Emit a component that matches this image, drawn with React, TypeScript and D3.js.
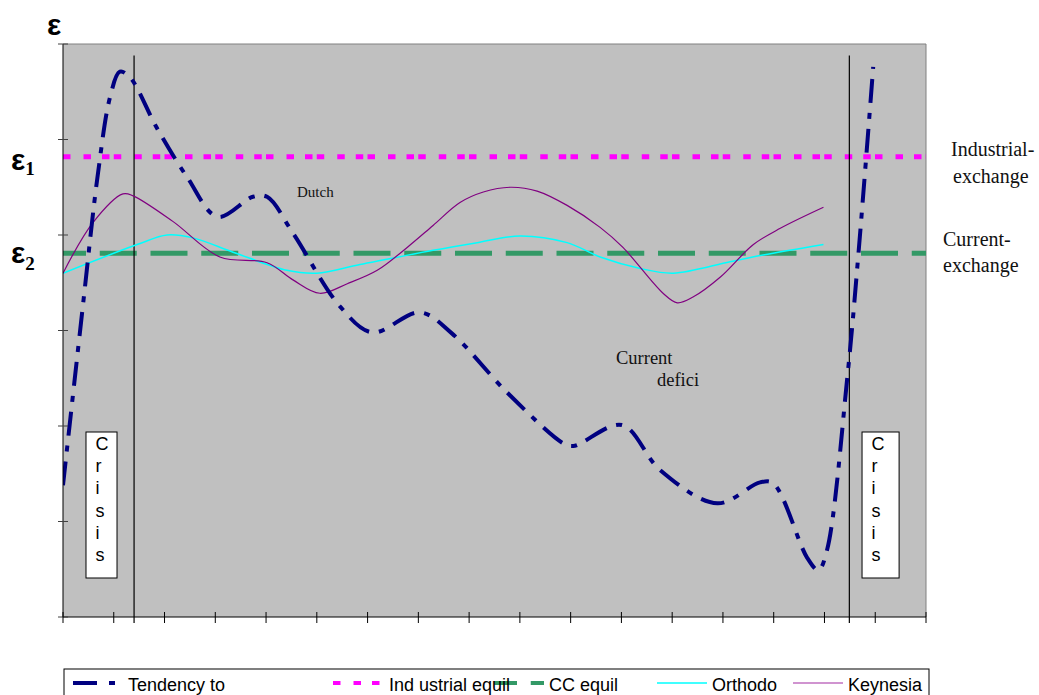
import React from 'react';
import * as d3 from 'd3';

const W = 1039;
const H = 695;

// x: period index (17 intervals), y: exchange-rate level (6 intervals)
const xTicks = d3.range(0, 18);
const yTicks = d3.range(0, 7);

// [period, level]
const tendency: [number, number][] = [
  [0, 1.38], [0.39, 3.25], [0.69, 4.65], [0.93, 5.45], [1.12, 5.71], [1.32, 5.65],
  [1.85, 5.12], [2.44, 4.61], [3.05, 4.19], [3.74, 4.4], [4.02, 4.4], [4.53, 4.02],
  [5.46, 3.25], [6.09, 2.98], [7.03, 3.19], [7.66, 2.97], [8.75, 2.35], [9.85, 1.82],
  [10.05, 1.79], [11.01, 2.01], [11.76, 1.54], [12.89, 1.19], [13.73, 1.41], [13.99, 1.4],
  [14.66, 0.62], [14.88, 0.49], [15.05, 0.7], [15.45, 2.51], [15.67, 3.81], [15.96, 5.76],
];

const orthodox: [number, number][] = [
  [0, 3.6], [1.46, 3.9], [2.05, 4.0], [2.56, 3.97], [3.35, 3.82], [4.41, 3.63],
  [5.0, 3.6], [5.85, 3.69], [7.29, 3.84], [8.16, 3.92], [9.0, 3.99], [9.93, 3.92],
  [10.58, 3.77], [11.37, 3.65], [12.02, 3.6], [13.14, 3.72], [13.79, 3.79], [14.98, 3.9],
];

const keynesian: [number, number][] = [
  [0, 3.6], [0.59, 4.13], [1.18, 4.43], [1.38, 4.41], [2.17, 4.14], [3.09, 3.77],
  [4.02, 3.71], [4.53, 3.53], [5.06, 3.39], [5.6, 3.49], [6.19, 3.63], [6.78, 3.87],
  [7.29, 4.1], [7.82, 4.34], [8.28, 4.45], [8.81, 4.5], [9.34, 4.46], [9.93, 4.31],
  [10.58, 4.08], [11.03, 3.87], [11.82, 3.39], [12.1, 3.29], [12.41, 3.35], [12.95, 3.56],
  [13.6, 3.9], [14.13, 4.07], [14.98, 4.29],
];

const industrialEquil = 4.82;
const ccEquil = 3.81;
const crisisLines = [1.4, 15.49];
// crisis text boxes: [x0, x1] in periods
const crisisBoxes: [number, number][] = [[0.453, 1.064], [15.74, 16.47]];
const crisisLetters = ['C', 'r', 'i', 's', 'i', 's'];

const legendLabels = ['Tendency to', 'Ind ustrial equil', 'CC equil', 'Orthodo', 'Keynesia'];

const NAVY = '#000080';
const MAGENTA = '#FF00FF';
const GREEN = '#339966';
const CYAN = '#00FFFF';
const PURPLE = '#800080';

const TEND_DASH = '24,10,6,10';
const IND_DASH = '7.5,13,7.5,11,7.5,4.25';
const CC_DASH = '37,13.75';

export default function App() {
  const left = 63, right = 926, top = 44, bottom = 617;
  const x = d3.scaleLinear().domain([0, 17]).range([left, right]);
  const y = d3.scaleLinear().domain([0, 6]).range([bottom, top]);

  const line = d3
    .line<[number, number]>()
    .x(d => x(d[0]))
    .y(d => y(d[1]))
    .curve(d3.curveCatmullRom.alpha(0.5));

  const serif = 'Liberation Serif, Times New Roman, serif';
  const sans = 'Liberation Sans, Arial, sans-serif';

  const legY = 683;
  const textY = 691;

  return (
    <svg
      width={W}
      height={H}
      style={{ position: 'absolute', left: 0, top: 0, background: '#fff' }}
    >
      <defs>
        <clipPath id="plot">
          <rect x={left} y={top} width={right - left} height={bottom - top} />
        </clipPath>
      </defs>

      {/* plot area */}
      <rect x={left} y={top} width={right - left} height={bottom - top} fill="#C0C0C0" />
      <line x1={left} x2={right} y1={top} y2={top} stroke="#808080" />
      <line x1={right} x2={right} y1={top} y2={bottom} stroke="#808080" />

      {/* equilibrium lines */}
      <g clipPath="url(#plot)">
        <line
          x1={left} x2={right} y1={y(industrialEquil)} y2={y(industrialEquil)}
          stroke={MAGENTA} strokeWidth={5} strokeDasharray={IND_DASH}
        />
        <line
          x1={left} x2={right} y1={y(ccEquil)} y2={y(ccEquil)}
          stroke={GREEN} strokeWidth={5} strokeDasharray={CC_DASH} strokeDashoffset={14}
        />
      </g>

      {/* crisis verticals */}
      {crisisLines.map((c, i) => (
        <line key={i} x1={x(c)} x2={x(c)} y1={y(5.88)} y2={bottom + 6} stroke="#000" strokeWidth={1.2} />
      ))}

      {/* crisis boxes */}
      {crisisBoxes.map(([a, b], i) => (
        <g key={i}>
          <rect x={x(a)} y={432} width={x(b) - x(a)} height={146} fill="#fff" stroke="#000" />
          {crisisLetters.map((ch, j) => (
            <text key={j} x={x(a) + 9.5} y={450 + j * 22.2} fontFamily={sans} fontSize={18} fill="#000">
              {ch}
            </text>
          ))}
        </g>
      ))}

      {/* series */}
      <g clipPath="url(#plot)" fill="none">
        <path d={line(orthodox) || ''} stroke={CYAN} strokeWidth={1.5} />
        <path d={line(keynesian) || ''} stroke={PURPLE} strokeWidth={1.2} />
        <path d={line(tendency) || ''} stroke={NAVY} strokeWidth={4} strokeDasharray={TEND_DASH} />
      </g>

      {/* axes */}
      <line x1={left} x2={left} y1={top} y2={bottom} stroke="#000" />
      <line x1={left} x2={right} y1={bottom} y2={bottom} stroke="#000" />
      {yTicks.map(t => (
        <line key={t} x1={left - 5} x2={left + 5} y1={y(t)} y2={y(t)} stroke="#404040" />
      ))}
      {xTicks.map(t => (
        <line key={t} x1={x(t)} x2={x(t)} y1={bottom - 5} y2={bottom + 6} stroke="#000" />
      ))}

      {/* epsilon labels */}
      <text x={47} y={35} fontFamily={sans} fontWeight="bold" fontSize={30}>ε</text>
      <text x={11} y={170} fontFamily={sans} fontWeight="bold" fontSize={30}>
        ε<tspan fontFamily={serif} fontSize={19} dy={5}>1</tspan>
      </text>
      <text x={11} y={263} fontFamily={sans} fontWeight="bold" fontSize={30}>
        ε<tspan fontFamily={serif} fontSize={19} dy={7}>2</tspan>
      </text>

      {/* right labels */}
      <g fontFamily={serif} fontSize={20} fill="#111">
        <text x={951} y={156}>Industrial-</text>
        <text x={953} y={183}>exchange</text>
        <text x={943} y={246}>Current-</text>
        <text x={943} y={272}>exchange</text>
      </g>

      {/* inner annotations */}
      <text x={297} y={197} fontFamily={serif} fontSize={15} fill="#111">Dutch</text>
      <text x={616} y={364} fontFamily={serif} fontSize={18.5} fill="#111">Current</text>
      <text x={657} y={386} fontFamily={serif} fontSize={18.5} fill="#111">defici</text>

      {/* legend */}
      <rect x={64} y={669} width={865} height={50} fill="#fff" stroke="#000" />
      <line x1={73} x2={115} y1={legY} y2={legY} stroke={NAVY} strokeWidth={4} strokeDasharray="24,12,6,10" />
      <line x1={333} x2={381} y1={legY} y2={legY} stroke={MAGENTA} strokeWidth={4} strokeDasharray={IND_DASH} />
      <line x1={494} x2={544} y1={legY} y2={legY} stroke={GREEN} strokeWidth={4} strokeDasharray={CC_DASH} strokeDashoffset={14} />
      <line x1={657} x2={707} y1={legY} y2={legY} stroke={CYAN} strokeWidth={1.5} />
      <line x1={793} x2={843} y1={legY} y2={legY} stroke="#C070C0" strokeWidth={1.5} />
      <g fontFamily={sans} fontSize={18} fill="#000">
        <text x={128} y={textY}>{legendLabels[0]}</text>
        <text x={389} y={textY}>{legendLabels[1]}</text>
        <text x={549} y={textY}>{legendLabels[2]}</text>
        <text x={712} y={textY}>{legendLabels[3]}</text>
        <text x={848} y={textY}>{legendLabels[4]}</text>
      </g>
    </svg>
  );
}
